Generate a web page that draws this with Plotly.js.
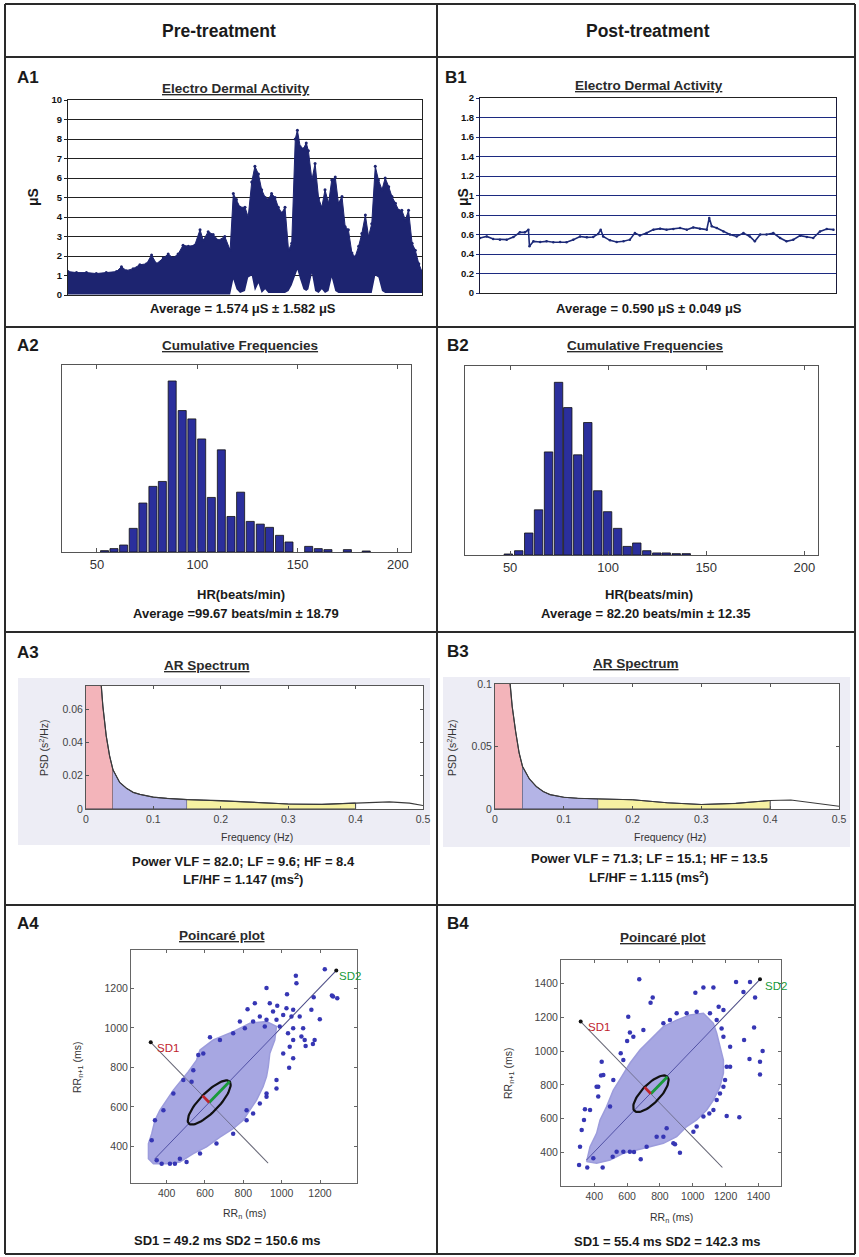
<!DOCTYPE html>
<html><head><meta charset="utf-8">
<script src="https://cdn.plot.ly/plotly-3.0.1.min.js"></script>
<style>html,body{margin:0;padding:0;background:#fff}#chart{width:859px;height:1257px}</style>
</head><body><div id="chart"></div>
<script>
// ---------------- DATA ----------------
// A1: Electro dermal activity, pre-treatment (time in % of session, envelope in µS)
const edaPreT  = [0,2.4,5.2,8.0,10.8,13.7,15.1,16.5,18.4,20.3,22.2,23.6,25.0,26.9,28.3,29.7,31.1,32.5,34.0,35.8,37.3,38.2,39.6,41.0,42.5,44.3,45.8,46.7,47.6,48.6,50.0,50.9,51.9,52.8,53.8,54.7,55.7,56.6,57.5,58.5,59.4,60.4,61.3,62.3,63.2,64.2,64.8,65.6,66.5,67.3,67.9,68.9,69.8,70.8,71.7,72.6,73.6,74.5,75.5,76.4,77.4,78.3,79.2,80.2,81.1,82.1,83.0,84.0,84.9,85.8,86.8,87.7,88.7,89.6,90.6,91.5,92.5,93.4,94.3,95.3,96.2,97.2,98.1,99.1,100];
const edaPreHi = [1.2,1.15,1.15,1.1,1.15,1.2,1.45,1.25,1.35,1.55,1.6,2.05,1.6,1.9,2.1,1.9,2.1,2.55,2.5,2.55,3.35,2.8,3.25,3.1,2.8,3.0,2.3,5.2,4.9,4.5,4.5,4.0,5.8,6.6,6.2,5.4,5.0,4.9,5.2,5.0,4.5,4.2,4.5,2.3,2.65,8.0,8.45,7.6,7.5,7.8,7.4,5.9,6.75,4.95,4.5,5.4,4.7,5.9,6.05,4.7,5.05,3.5,3.35,2.15,1.95,2.5,3.15,4.1,3.0,3.65,6.6,5.9,5.4,6.0,5.55,5.05,4.7,4.35,4.35,3.85,4.35,2.65,2.3,1.6,1.2];
const edaPreLo = [0.03,0.03,0.03,0.03,0.03,0.03,0.03,0.03,0.03,0.03,0.03,0.03,0.03,0.03,0.03,0.03,0.03,0.03,0.03,0.03,0.03,0.03,0.03,0.03,0.03,0.03,0.03,0.8,0.3,0.1,0.2,0.9,1.0,0.2,0.6,0.1,0.3,0.1,0.1,0.1,0.1,0.1,0.1,0.2,0.5,1.0,1.3,0.8,0.3,0.2,0.3,1.1,0.2,0.1,0.3,0.1,0.2,0.9,0.2,0.1,0.1,0.1,0.1,0.1,0.1,0.1,0.1,0.1,0.1,0.1,1.0,0.9,0.2,0.1,0.1,0.1,0.1,0.1,0.1,0.1,0.1,0.1,0.1,0.1,0.1];
const edaPreYTicks = [0,1,2,3,4,5,6,7,8,9,10];

// B1: Electro dermal activity, post-treatment
const edaPostT = [0,1.9,3.7,5.6,7.5,9.4,11.2,12.6,13.6,13.9,15.0,16.9,18.7,20.6,22.5,24.3,26.2,28.1,30.0,31.8,33.2,33.9,34.6,36.5,38.4,40.3,42.1,43.5,44.9,46.8,48.7,50.6,52.4,54.3,56.2,58.1,59.9,61.8,63.7,64.4,65.1,66.5,68.4,70.2,72.1,74.0,75.8,77.2,78.7,80.5,82.4,84.3,86.1,88.0,89.9,91.8,93.6,95.5,97.4,99.3];
const edaPostV = [0.564,0.58,0.554,0.547,0.547,0.574,0.622,0.622,0.65,0.48,0.53,0.523,0.53,0.52,0.523,0.52,0.547,0.58,0.571,0.574,0.605,0.65,0.58,0.54,0.523,0.53,0.547,0.615,0.59,0.615,0.65,0.66,0.65,0.656,0.667,0.65,0.673,0.66,0.65,0.77,0.684,0.667,0.632,0.6,0.58,0.615,0.58,0.53,0.6,0.6,0.615,0.564,0.53,0.547,0.588,0.574,0.564,0.632,0.656,0.65];

// A2 / B2: heart-rate histograms (bin centre bpm, relative frequency)
const hrPreBins  = [53.8,58.5,63.3,68.1,72.9,77.9,82.6,87.5,92.5,97.3,102.2,107.0,112.0,116.8,121.6,126.4,131.4,136.0,141.0,145.7,155.5,160.3,165.1,174.8,184.2];
const hrPreFreq  = [0.8,2.0,4.1,13.9,28.8,38.6,41.5,100.6,83.2,78.3,66.5,32.1,60.1,20.9,35.2,18.0,16.4,14.5,9.8,5.9,3.3,2.0,1.4,1.4,0.6];
const hrPostBins = [49.1,54.4,59.5,64.5,69.6,74.7,79.4,84.5,89.6,94.7,99.7,104.8,109.7,114.6,119.7,124.8,129.6,134.7,139.8];
const hrPostFreq = [0.6,2.5,12.8,26.3,60.0,100.5,85.8,58.3,77.1,37.4,25.2,15.5,5.0,7.0,2.5,1.2,1.2,0.8,0.8];
const hrTicks = [50,100,150,200];

// A3 / B3: AR spectrum (Hz, s^2/Hz)
const freq    = [0,0.005,0.01,0.015,0.02,0.025,0.03,0.035,0.04,0.05,0.06,0.07,0.08,0.09,0.10,0.12,0.15,0.2,0.25,0.3,0.35,0.4,0.43,0.45,0.48,0.5];
const psdPre  = [0.9,0.5,0.25,0.13,0.088,0.062,0.044,0.032,0.0236,0.016,0.0125,0.0100,0.0088,0.0078,0.0071,0.0064,0.0057,0.0050,0.0040,0.0030,0.0028,0.0036,0.0043,0.0043,0.0035,0.0021];
const psdPost = [0.9,0.5,0.3,0.17,0.112,0.082,0.062,0.045,0.034,0.024,0.018,0.014,0.0115,0.0102,0.0094,0.0086,0.0080,0.0074,0.0050,0.0036,0.0045,0.0068,0.0072,0.0058,0.0038,0.0022];
const bandEdges = {VLF:[0,0.04], LF:[0.04,0.15], HF:[0.15,0.4]};

// A4 / B4: Poincaré plots (ms)
const pcPreCloudX = [747,643,574,556,513,478,435,400,365,339,322,305,305,331,400,469,539,608,678,747,799,834,869,903,921,930,938,964,973,921,834];
const pcPreCloudY = [981,939,888,837,778,736,685,634,583,532,464,414,337,312,312,320,363,397,447,490,532,583,634,702,753,803,871,939,1007,1032,1024];
const pcPreOutX = [1225,1074,1077,921,1028,1167,1268,822,860,938,977,1025,1060,1155,955,886,1008,1051,1094,1199,782,808,912,990,1060,1112,1033,1103,1120,1172,1163,1125,1060,1042,1060,1039,1008,626,565,973,973,921,817,530,348,374,417,443,469,1290,1262,
  921,886,851,817,747,660,574,504,322,339,383,435,487,539,591,678,747,851,921,973];
const pcPreOutY = [1298,1264,1227,1202,1171,1156,1159,1095,1125,1125,1112,1100,1092,1092,1083,1058,1066,1058,1058,1044,1032,998,1007,1007,998,998,973,956,939,939,919,908,939,905,846,798,871,953,863,736,693,651,583,727,329,312,312,312,337,1150,1165,
  668,617,566,532,464,414,363,320,431,532,583,668,736,786,871,939,973,1032,1041,1041];
const pcPreStats = {mean:[622,622], SD1:49.2, SD2:150.6};
const pcPreDiag = {x:[339,1285], y:[337,1291]};
const pcPreAnti = {x:[317,929], y:[927,315]};
const pcPreTicks = [400,600,800,1000,1200];

const pcPostCloudX = [353,374,414,435,475,516,567,617,678,760,821,902,983,1065,1126,1146,1166,1187,1187,1166,1126,1085,1024,963,902,821,739,658,577,496,414];
const pcPostCloudY = [347,435,514,593,672,770,849,928,1006,1085,1144,1183,1213,1223,1164,1105,1026,947,869,790,711,652,593,554,494,455,435,416,396,357,337];
const pcPostOutX = [674,756,743,1016,1065,1126,1264,1309,1349,1380,1313,1346,1374,1426,1410,1410,1284,1207,1158,1187,1187,1228,1228,1166,1101,1065,1004,922,892,841,607,617,561,600,445,441,424,343,337,323,313,307,357,451,512,577,683,642,
  455,414,424,374,394,536,617,719,780,821,882,1024,1126,1146,1187,1197,1207,1176,1146,1105,1024,963,902,861,496,516,577,638,699,821];
const pcPostOutY = [1424,1317,1286,1345,1376,1376,1408,1349,1408,1317,1065,953,1140,1000,937,862,609,617,1262,1243,1085,1026,908,750,632,613,524,400,449,544,1203,1110,987,1059,937,855,790,656,593,534,435,327,313,313,376,406,361,404,
  859,790,731,652,367,406,406,435,494,494,455,554,652,711,790,829,908,1134,1183,1223,1233,1223,1223,1183,672,829,947,1085,1124,1164];
const pcPostStats = {mean:[745,748], SD1:55.4, SD2:142.3};
const pcPostDiag = {x:[353,1410], y:[357,1424]};
const pcPostAnti = {x:[317,1180], y:[1174,313]};
const pcPostTicks = [400,600,800,1000,1200,1400];

// ---------------- LAYOUT HELPERS ----------------
const W = 859, H = 1257;
const FONT = 'Liberation Sans, Arial, Helvetica, sans-serif';
const dx = (a,b) => [a/W, b/W];
const dy = (t,b) => [1-b/H, 1-t/H];
const NAVY = '#1d2470';

const traces = [];
const annotations = [];
const shapes = [];

function ann(text, px, py, size, opts) {
  annotations.push(Object.assign({
    text: text, xref:'paper', yref:'paper', x: px/W, y: 1-py/H,
    xanchor:'center', yanchor:'middle', showarrow:false,
    font:{family:FONT, size:size, color:'#1a1a1a'}
  }, opts||{}));
}
function title(text, px, py) {
  ann('<b>'+text+'</b>', px, py, 13.5, {font:{family:FONT,size:13.5,color:'#2a2a2a',lineposition:'under'}});
}
function label(text, px, py) {
  ann('<b>'+text+'</b>', px, py, 17, {xanchor:'left'});
}
function rectPx(x0,y0,x1,y1,fill,layer) {
  shapes.push({type:'rect', xref:'paper', yref:'paper', x0:x0/W, x1:x1/W, y0:1-y1/H, y1:1-y0/H,
    fillcolor:fill, line:{width:0}, layer:layer||'below'});
}
function linePx(x0,y0,x1,y1) {
  shapes.push({type:'line', xref:'paper', yref:'paper', x0:x0/W, x1:x1/W, y0:1-y0/H, y1:1-y1/H,
    line:{color:'#2a2a2a', width:2}});
}

// ---------------- TABLE GRID ----------------
[5,437,855].forEach(x => linePx(x,4,x,1254));
[4,57,327,632,905,1254].forEach(y => linePx(5,y,855,y));
ann('<b>Pre-treatment</b>', 219, 31, 17.5);
ann('<b>Post-treatment</b>', 648, 31, 17.5);

// ---------------- A1 / B1 ----------------
traces.push({x:edaPreT, y:edaPreLo, xaxis:'x', yaxis:'y', mode:'lines', line:{width:0,color:NAVY}, hoverinfo:'skip'});
traces.push({x:edaPreT, y:edaPreHi, xaxis:'x', yaxis:'y', mode:'lines+markers', fill:'tonexty', fillcolor:NAVY,
  line:{width:1, color:NAVY}, marker:{size:3, color:NAVY}});
traces.push({x:edaPostT, y:edaPostV, xaxis:'x2', yaxis:'y2', mode:'lines+markers',
  line:{width:1.6, color:'#1d2a78'}, marker:{size:2.5, color:'#1d2a78'}});

label('A1', 15, 77); label('B1', 443, 77);
title('Electro Dermal Activity', 236, 88);
title('Electro Dermal Activity', 649, 86);
ann('<b>μS</b>', 33, 197, 14, {textangle:-90});
ann('<b>μS</b>', 463, 197, 14, {textangle:-90});
ann('<b>Average = 1.574 μS ± 1.582 μS</b>', 243, 308, 13);
ann('<b>Average = 0.590 μS ± 0.049 μS</b>', 649, 308, 13);

// ---------------- A2 / B2 ----------------
traces.push({type:'bar', x:hrPreBins, y:hrPreFreq, xaxis:'x3', yaxis:'y3', width:4.0,
  marker:{color:'#2b2f9c', line:{color:'#111', width:0.8}}});
traces.push({type:'bar', x:hrPostBins, y:hrPostFreq, xaxis:'x4', yaxis:'y4', width:4.3,
  marker:{color:'#2b2f9c', line:{color:'#111', width:0.8}}});
label('A2', 15, 345); label('B2', 445, 345);
title('Cumulative Frequencies', 240, 346);
title('Cumulative Frequencies', 645, 346);
ann('<b>HR(beats/min)</b>', 241, 595, 13);
ann('<b>Average =99.67 beats/min ± 18.79</b>', 236, 614, 13);
ann('<b>HR(beats/min)</b>', 649, 595, 13);
ann('<b>Average = 82.20 beats/min ± 12.35</b>', 645, 614, 13);

// ---------------- A3 / B3 ----------------
rectPx(18,678,430,845,'#ededf5'); rectPx(86,686,423,809,'#ffffff');
rectPx(443,677,850,847,'#ededf5'); rectPx(495,684,839,809,'#ffffff');
const bandColors = {VLF:'#f3b4ba', LF:'#b4b4e6', HF:'#f6f1a2'};
function spectrum(psd, xa, ya) {
  Object.keys(bandEdges).forEach(b => {
    const [lo, hi] = bandEdges[b];
    const xs = [], ys = [];
    freq.forEach((f,i) => { if (f >= lo - 1e-9 && f <= hi + 1e-9) { xs.push(f); ys.push(psd[i]); } });
    xs.push(hi, lo); ys.push(0, 0);
    traces.push({x:xs, y:ys, xaxis:xa, yaxis:ya, mode:'lines', fill:'toself', fillcolor:bandColors[b],
      line:{color:'#3a3a4a', width:1}, hoverinfo:'skip'});
  });
  traces.push({x:freq, y:psd, xaxis:xa, yaxis:ya, mode:'lines', line:{color:'#3a3a3a', width:1.2}});
}
spectrum(psdPre, 'x5', 'y5');
spectrum(psdPost, 'x6', 'y6');
label('A3', 15, 652); label('B3', 445, 651);
title('AR Spectrum', 207, 665);
title('AR Spectrum', 636, 663);
ann('PSD (s<sup>2</sup>/Hz)', 43, 748, 10.5, {textangle:-90, font:{family:FONT,size:10.5,color:'#333'}});
ann('PSD (s<sup>2</sup>/Hz)', 451, 748, 10.5, {textangle:-90, font:{family:FONT,size:10.5,color:'#333'}});
ann('Frequency (Hz)', 257, 837, 10.5, {font:{family:FONT,size:10.5,color:'#333'}});
ann('Frequency (Hz)', 670, 837, 10.5, {font:{family:FONT,size:10.5,color:'#333'}});
ann('<b>Power VLF = 82.0; LF = 9.6; HF = 8.4</b>', 243, 861, 13);
ann('<b>LF/HF = 1.147 (ms<sup>2</sup>)</b>', 243, 879, 13);
ann('<b>Power VLF = 71.3; LF = 15.1; HF = 13.5</b>', 649, 858, 13);
ann('<b>LF/HF = 1.115 (ms<sup>2</sup>)</b>', 649, 877, 13);

// ---------------- A4 / B4 ----------------
function poincare(cx, cy, ox, oy, st, diag, anti, xa, ya, sd1Pos, sd2Pos) {
  traces.push({x:diag.x, y:diag.y, xaxis:xa, yaxis:ya, mode:'lines', line:{color:'#9a9aa2', width:1.2}, hoverinfo:'skip'});
  traces.push({x:anti.x, y:anti.y, xaxis:xa, yaxis:ya, mode:'lines', line:{color:'#9a9aa2', width:1.2}, hoverinfo:'skip'});
  traces.push({x:cx.concat([cx[0]]), y:cy.concat([cy[0]]), xaxis:xa, yaxis:ya, mode:'lines', fill:'toself',
    fillcolor:'#a7a7e2', line:{color:'#9c9cdc', width:1.5}, hoverinfo:'skip'});
  traces.push({x:ox, y:oy, xaxis:xa, yaxis:ya, mode:'markers', marker:{size:4.5, color:'#3636b4'}});
  traces.push({x:diag.x, y:diag.y, xaxis:xa, yaxis:ya, mode:'lines', line:{color:'rgba(60,60,150,0.8)', width:1}, hoverinfo:'skip'});
  traces.push({x:anti.x, y:anti.y, xaxis:xa, yaxis:ya, mode:'lines', line:{color:'rgba(90,90,110,0.7)', width:1}, hoverinfo:'skip'});
  const r = Math.SQRT1_2, ex = [], ey = [];
  for (let k = 0; k <= 72; k++) {
    const a = 2*Math.PI*k/72;
    ex.push(st.mean[0] + st.SD2*Math.cos(a)*r - st.SD1*Math.sin(a)*r);
    ey.push(st.mean[1] + st.SD2*Math.cos(a)*r + st.SD1*Math.sin(a)*r);
  }
  traces.push({x:ex, y:ey, xaxis:xa, yaxis:ya, mode:'lines', line:{color:'#111', width:2.2}});
  traces.push({x:[st.mean[0], st.mean[0]+st.SD2*r], y:[st.mean[1], st.mean[1]+st.SD2*r], xaxis:xa, yaxis:ya,
    mode:'lines', line:{color:'#1a9a3a', width:2.8}});
  traces.push({x:[st.mean[0], st.mean[0]-st.SD1*r], y:[st.mean[1], st.mean[1]+st.SD1*r], xaxis:xa, yaxis:ya,
    mode:'lines', line:{color:'#c0242c', width:2.8}});
  traces.push({x:[anti.x[0], diag.x[1]], y:[anti.y[0], diag.y[1]], xaxis:xa, yaxis:ya, mode:'markers',
    marker:{size:4, color:'#111'}});
  annotations.push({text:'SD1', xref:xa, yref:ya, x:sd1Pos[0], y:sd1Pos[1], xanchor:'left', yanchor:'middle',
    showarrow:false, font:{family:FONT, size:11.5, color:'#c0242c'}});
  annotations.push({text:'SD2', xref:xa, yref:ya, x:sd2Pos[0], y:sd2Pos[1], xanchor:'left', yanchor:'middle',
    showarrow:false, font:{family:FONT, size:11.5, color:'#1a9a3a'}});
}
poincare(pcPreCloudX, pcPreCloudY, pcPreOutX, pcPreOutY, pcPreStats, pcPreDiag, pcPreAnti, 'x7', 'y7', [338,898], [1290,1262]);
poincare(pcPostCloudX, pcPostCloudY, pcPostOutX, pcPostOutY, pcPostStats, pcPostDiag, pcPostAnti, 'x8', 'y8', [350,1144], [1428,1384]);
label('A4', 15, 923); label('B4', 445, 923);
title('Poincaré plot', 222, 935);
title('Poincaré plot', 663, 938);
ann('RR<sub>n+1</sub> (ms)', 78, 1067, 10.5, {textangle:-90, font:{family:FONT,size:10.5,color:'#333'}});
ann('RR<sub>n+1</sub> (ms)', 509, 1073, 10.5, {textangle:-90, font:{family:FONT,size:10.5,color:'#333'}});
ann('RR<sub>n</sub> (ms)', 244, 1214, 10.5, {font:{family:FONT,size:10.5,color:'#333'}});
ann('RR<sub>n</sub> (ms)', 671, 1218, 10.5, {font:{family:FONT,size:10.5,color:'#333'}});
ann('<b>SD1 = 49.2 ms SD2 = 150.6 ms</b>', 227, 1240, 13);
ann('<b>SD1 = 55.4 ms SD2 = 142.3 ms</b>', 667, 1241, 13);

// ---------------- AXES ----------------
const L = {
  width: W, height: H, margin:{l:0,r:0,t:0,b:0}, showlegend:false,
  paper_bgcolor:'#fff', plot_bgcolor:'#fff', font:{family:FONT, color:'#222'},
  annotations: annotations, shapes: shapes, bargap:0
};
function ax(extra) {
  return Object.assign({showline:true, mirror:true, linecolor:'#222', linewidth:1, zeroline:false,
    showgrid:false, fixedrange:true, tickfont:{family:FONT, size:10, color:'#333'}}, extra);
}
// A1
L.xaxis  = ax({domain:dx(68,422), range:[0,100], showticklabels:false, ticks:'', anchor:'y'});
L.yaxis  = ax({domain:dy(100,295), range:[0,10], tickvals:edaPreYTicks, showgrid:true, gridcolor:'#222', gridwidth:1,
  ticks:'outside', ticklen:3, tickcolor:'#222', tickfont:{family:FONT,size:9.5,color:'#111',weight:'bold'}, anchor:'x'});
// B1
L.xaxis2 = ax({domain:dx(480,836), range:[0,100], showticklabels:false, ticks:'', anchor:'y2'});
L.yaxis2 = ax({domain:dy(98,293), range:[0,2], dtick:0.2, showgrid:true, gridcolor:'#1c2a80', gridwidth:1,
  ticks:'outside', ticklen:3, tickcolor:'#1c2a80', linecolor:'#1a1a3a',
  tickfont:{family:FONT,size:9.5,color:'#111',weight:'bold'}, anchor:'x2'});
// A2
L.xaxis3 = ax({domain:dx(62,411), range:[32.6,206.5], tickvals:hrTicks, ticks:'inside', ticklen:4, mirror:'ticks',
  linecolor:'#555', tickcolor:'#555', tickfont:{family:FONT,size:13,color:'#333'}, anchor:'y3'});
L.yaxis3 = ax({domain:dy(365,552), range:[0,110], showticklabels:false, ticks:'', linecolor:'#555', anchor:'x3'});
// B2
L.xaxis4 = ax({domain:dx(465,818), range:[27,207], tickvals:hrTicks, ticks:'inside', ticklen:4, mirror:'ticks',
  linecolor:'#555', tickcolor:'#555', tickfont:{family:FONT,size:13,color:'#333'}, anchor:'y4'});
L.yaxis4 = ax({domain:dy(366,555), range:[0,110], showticklabels:false, ticks:'', linecolor:'#555', anchor:'x4'});
// A3
L.xaxis5 = ax({domain:dx(86,423), range:[0,0.5], dtick:0.1, ticks:'inside', ticklen:3, mirror:'ticks',
  linecolor:'#555', tickcolor:'#555', tickfont:{family:FONT,size:10.5,color:'#444'}, anchor:'y5'});
L.yaxis5 = ax({domain:dy(686,809), range:[0,0.074], tickvals:[0,0.02,0.04,0.06], ticks:'inside', ticklen:3, mirror:'ticks',
  linecolor:'#555', tickcolor:'#555', tickfont:{family:FONT,size:10.5,color:'#444'}, anchor:'x5'});
// B3
L.xaxis6 = ax({domain:dx(495,839), range:[0,0.5], dtick:0.1, ticks:'inside', ticklen:3, mirror:'ticks',
  linecolor:'#555', tickcolor:'#555', tickfont:{family:FONT,size:10.5,color:'#444'}, anchor:'y6'});
L.yaxis6 = ax({domain:dy(684,809), range:[0,0.1], tickvals:[0,0.05,0.1], ticks:'inside', ticklen:3, mirror:'ticks',
  linecolor:'#555', tickcolor:'#555', tickfont:{family:FONT,size:10.5,color:'#444'}, anchor:'x6'});
// A4
L.xaxis7 = ax({domain:dx(131,357), range:[214,1393], tickvals:pcPreTicks, ticks:'inside', ticklen:3, mirror:'ticks',
  linecolor:'#666', tickcolor:'#666', tickfont:{family:FONT,size:10.5,color:'#444'}, anchor:'y7'});
L.yaxis7 = ax({domain:dy(950,1183), range:[214,1395], tickvals:pcPreTicks, ticks:'inside', ticklen:3, mirror:'ticks',
  linecolor:'#666', tickcolor:'#666', tickfont:{family:FONT,size:10.5,color:'#444'}, anchor:'x7'});
// B4
L.xaxis8 = ax({domain:dx(561,781), range:[197,1538], tickvals:pcPostTicks, ticks:'inside', ticklen:3, mirror:'ticks',
  linecolor:'#666', tickcolor:'#666', tickfont:{family:FONT,size:10.5,color:'#444'}, anchor:'y8'});
L.yaxis8 = ax({domain:dy(960,1186), range:[203,1538], tickvals:pcPostTicks, ticks:'inside', ticklen:3, mirror:'ticks',
  linecolor:'#666', tickcolor:'#666', tickfont:{family:FONT,size:10.5,color:'#444'}, anchor:'x8'});

Plotly.newPlot('chart', traces, L, {staticPlot:true, displayModeBar:false});
</script></body></html>
